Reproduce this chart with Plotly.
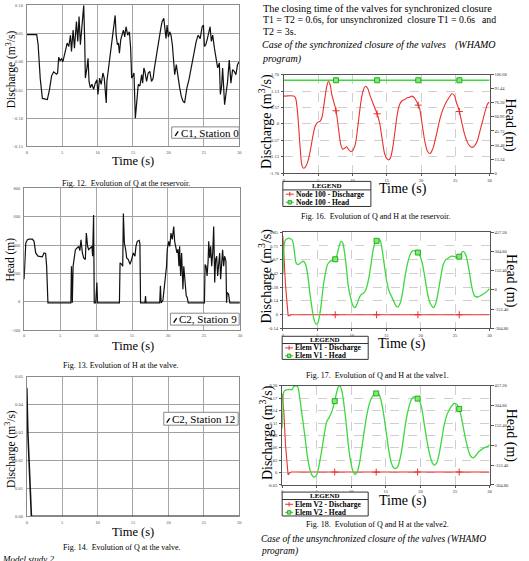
import numpy as np
import plotly.graph_objects as go

W, H = 529, 561
SERIF = "Liberation Serif"

# ---------------- data ----------------
time_ticks = [0, 5, 10, 15, 20, 25, 30]

# Fig. 12 - Q at the reservoir (C1, Station 0)
t_fig12 = [0, 1.40, 1.6, 1.9, 2.2, 2.9, 3.2, 3.5, 3.8, 4.2,
           4.35, 4.5, 4.7, 4.9, 5.1, 5.47, 5.70, 5.93, 6.17, 6.31,
           6.54, 6.73, 7.01, 7.2, 7.38, 7.57, 7.80, 8.04, 8.18, 8.27,
           8.5, 8.65, 8.79, 8.97, 9.2, 9.44, 9.67, 9.9, 10.05, 10.28,
           10.51, 10.75, 10.94, 11.22, 11.31, 11.54, 11.78, 12.01, 12.24, 12.48,
           12.62, 12.8, 12.94, 13.08, 13.27, 13.41, 13.65, 13.83, 14.02, 14.25,
           14.49, 14.67, 14.81, 14.95, 15.14, 15.33, 15.51, 15.75, 15.98, 16.22,
           16.36, 16.54, 16.68, 16.92, 17.15, 17.38, 17.62, 17.85, 17.99, 18.13,
           18.32, 18.5, 18.69, 18.93, 19.11, 19.35, 19.53, 19.67, 19.81, 20.0,
           20.19, 20.37, 20.56, 20.65, 20.89, 21.12, 21.36, 21.59, 21.82, 22.06,
           22.29, 22.43, 22.62, 22.9, 23.18, 23.36, 23.6, 23.93, 24.21, 24.49,
           24.77, 24.95, 25.09, 25.28, 25.51, 25.7, 25.89, 26.07, 26.26, 26.5,
           26.73, 26.96, 27.2, 27.34, 27.52, 27.66, 27.94, 28.13, 28.36, 28.6,
           28.83, 29.07, 29.3, 29.53, 29.77, 30.0]
q_fig12 = [0.048, 0.048, 0.03, -0.03, -0.065, -0.067, -0.05, -0.025, -0.018, -0.022,
           -0.02, 0.008, 0.002, 0.005, 0.0, 0.024, 0.033, 0.027, 0.047, 0.018,
           0.056, 0.024, 0.071, 0.036, 0.080, 0.030, 0.065, 0.10, 0.036, -0.029,
           -0.011, 0.006, -0.035, -0.046, -0.04, -0.049, -0.038, -0.032, -0.058, -0.029,
           -0.04, -0.02, -0.029, -0.073, -0.035, -0.011, 0.012, 0.036, 0.059, 0.082,
           0.047, 0.030, 0.033, 0.015, 0.039, 0.047, 0.056, 0.044, 0.062, 0.047,
           0.053, 0.024, -0.029, -0.026, -0.02, -0.10, -0.07, -0.04, -0.043, -0.023,
           -0.038, -0.011, -0.017, -0.035, -0.02, -0.017, -0.035, -0.029, -0.014, -0.002,
           0.012, 0.024, 0.041, 0.059, 0.071, 0.077, 0.056, 0.041, 0.065, 0.044,
           0.053, 0.047, 0.030, 0.012, -0.023, -0.005, -0.029, -0.046, -0.061, -0.07,
           -0.073, -0.058, -0.046, -0.032, -0.014, -0.002, 0.018, 0.036, 0.047, 0.041,
           0.062, 0.065, 0.027, 0.030, 0.041, 0.053, 0.062, 0.036, 0.047, 0.024,
           0.003, -0.011, -0.002, -0.058, -0.043, -0.011, -0.076, -0.058, -0.035, 0.003,
           -0.038, -0.014, -0.017, -0.023, -0.005, 0.0]
fig12_yticks = [-0.15, -0.10, -0.05, 0.00, 0.05, 0.10]

# Fig. 13 - H at the valve (C2, Station 9)
t_fig13 = [0, 0.23, 0.46, 0.69, 1.15, 1.38, 1.61, 1.93, 2.53, 2.76,
           2.99, 3.13, 3.31, 6.5, 6.58, 6.62, 6.7, 6.81, 7.0, 7.13,
           7.36, 7.59, 7.75, 7.91, 8.1, 8.28, 8.51, 8.65, 8.83, 8.97,
           9.2, 9.43, 9.52, 9.66, 9.75, 9.95, 10.12, 10.21, 13.25, 13.34,
           13.57, 13.71, 13.8, 13.94, 14.12, 14.26, 14.49, 14.72, 14.95, 15.18,
           15.41, 15.55, 15.73, 16.0, 16.1, 16.19, 16.8, 16.88, 16.95, 18.85,
           18.95, 19.05, 19.3, 19.55, 19.7, 19.8, 19.9, 20.1, 20.25, 20.42,
           20.6, 20.8, 20.93, 21.1, 21.25, 21.4, 21.53, 21.62, 21.76, 21.9,
           22.08, 22.2, 22.36, 22.54, 22.68, 22.82, 25.07, 25.16, 25.3, 25.44,
           25.58, 25.67, 25.8, 25.94, 26.08, 26.22, 26.36, 26.5, 26.63, 26.77,
           26.91, 27.05, 27.19, 27.32, 27.46, 27.6, 27.74, 27.88, 28.06, 28.15,
           28.24, 28.43, 28.6, 30]
h_fig13 = [158, 414, 437, 442, 442, 426, 344, 321, 316, 344,
           340, 251, -8, -8, 250, -8, -8, 251, 321, 367,
           379, 391, 360, 437, 344, 309, 298, 484, 391, 367,
           379, 391, 321, 612, -8, -8, 135, -8, -8, 274,
           263, 251, 623, 414, 367, 309, 298, 263, 298, 344,
           321, 390, 426, 433, 410, -8, -8, 40, -8, -8,
           112, -8, 10, 112, 181, 250, 367, 426, 390, 484,
           440, 530, 426, 390, 344, 370, 251, 391, 181, 344,
           88, 250, 135, 42, 30, -8, -8, 263, 251, 181,
           286, 426, 309, 391, 251, 344, 530, 135, 298, 321,
           181, 298, 344, 158, 309, 367, 251, 321, 286, -8,
           65, 53, -8, -8]
fig13_yticks = [-200, 0, 200, 400, 600, 800]

# Fig. 14 - Q at the valve (C2, Station 12)
t_fig14 = [0, 0.05, 0.15, 0.65, 30]
q_fig14 = [0.046, 0.040, 0.030, 0.0, 0.0]
fig14_yticks = [0.00, 0.01, 0.02, 0.03, 0.04, 0.05]

# Fig. 16 - Q and H at the reservoir (Node 100)
t_fig16 = [0, 1.45, 1.69, 1.93, 2.17, 2.41, 2.65, 2.89, 3.13, 3.47,
           3.86, 4.24, 4.58, 4.92, 5.3, 5.55, 5.79, 6.03, 6.32, 6.51,
           6.75, 6.99, 7.23, 7.57, 7.86, 8.1, 8.34, 8.59, 8.92, 9.16,
           9.4, 9.74, 10.03, 10.37, 10.71, 11.0, 11.33, 11.62, 11.91, 12.2,
           12.54, 12.88, 13.26, 13.6, 13.99, 14.37, 14.71, 15.05, 15.34, 15.58,
           15.92, 16.25, 16.54, 16.88, 17.22, 17.6, 17.99, 18.33, 18.66, 19.05,
           19.44, 19.77, 20.02, 20.31, 20.64, 20.98, 21.32, 21.7, 22.04, 22.43,
           22.81, 23.2, 23.63, 24.12, 24.5, 24.84, 25.18, 25.56, 25.9, 26.29,
           26.67, 27.06, 27.49, 27.83, 28.22, 28.6, 28.99, 29.37, 29.76, 30]
q_fig16 = [0.96, 0.96, 0.90, 0.56, -0.13, -0.92, -1.44, -1.53, -1.49, -1.32,
           -0.92, -0.41, -0.07, 0.05, 0.10, 0.22, 0.56, 0.96, 1.36, 1.47,
           1.36, 1.02, 0.80, 0.50, 0.05, -0.41, -0.75, -0.87, -0.83, -0.79,
           -0.87, -0.95, -0.92, -0.75, -0.24, 0.33, 0.90, 1.19, 1.30, 1.24,
           1.00, 0.78, 0.55, 0.35, 0.00, -0.58, -1.04, -1.21, -1.24, -1.15,
           -0.75, -0.18, 0.33, 0.67, 0.79, 0.84, 0.90, 0.92, 0.96, 0.90,
           0.73, 0.56, 0.22, -0.24, -0.70, -0.96, -1.02, -0.87, -0.58, -0.18,
           0.22, 0.50, 0.73, 0.92, 1.04, 0.99, 0.73, 0.47, 0.10, -0.30,
           -0.58, -0.75, -0.81, -0.75, -0.58, -0.24, 0.10, 0.45, 0.71, 0.75]
t_fig16_head = [0, 30]
h_fig16 = [100.6, 100.6]
fig16_q_ticktext = ["-1.70", "-1.13", "-0.57", "0", "0.57", "1.13", "1.70"]
fig16_h_ticktext = ["0", "15.24", "30.48", "45.72", "60.96", "76.20", "91.44", "106.68"]

# Fig. 17 - Q and H at valve 1 (Elem V1)
t_fig17_q = [0, 0.14, 0.38, 0.62, 0.77, 0.96, 1.15, 30]
q_fig17 = [0.81, 0.58, 0.31, 0.11, -0.01, -0.01, 0.0, 0.0]
t_fig17_h = [0, 0.1, 0.19, 0.38, 0.62, 0.86, 1.1, 1.34, 1.54, 1.73,
             1.92, 2.16, 2.4, 2.69, 3.02, 3.31, 3.6, 3.89, 4.22, 4.51,
             4.8, 5.04, 5.28, 5.57, 5.9, 6.24, 6.48, 6.72, 7.01, 7.3,
             7.58, 7.87, 8.16, 8.45, 8.69, 8.93, 9.22, 9.5, 9.89, 10.18,
             10.46, 10.75, 11.09, 11.42, 11.81, 12.14, 12.48, 12.86, 13.15, 13.44,
             13.73, 13.97, 14.21, 14.45, 14.78, 15.12, 15.41, 15.74, 16.08, 16.42,
             16.7, 16.99, 17.33, 17.66, 18.0, 18.38, 18.72, 19.1, 19.49, 19.82,
             20.16, 20.54, 20.93, 21.26, 21.6, 21.89, 22.22, 22.56, 22.94, 23.28,
             23.66, 24.05, 24.38, 24.77, 25.15, 25.49, 25.82, 26.16, 26.5, 26.78,
             27.12, 27.5, 27.84, 28.22, 28.61, 28.99, 29.38, 29.76, 30]
h_fig17 = [122, 253, 358, 397, 405, 410, 405, 397, 358, 279,
           214, 201, 206, 219, 227, 201, 122, -9, -140, -231,
           -271, -265, -218, -114, 43, 148, 201, 219, 232, 240,
           240, 279, 345, 384, 371, 305, 174, 30, -74, -127,
           -140, -114, -61, -35, -22, 17, 96, 227, 332, 379,
           397, 405, 379, 305, 174, 56, -9, -48, -88, -127,
           -135, -109, -35, 83, 187, 266, 305, 311, 305, 279,
           227, 122, -9, -88, -127, -140, -101, -9, 109, 201,
           240, 253, 266, 266, 261, 253, 284, 305, 284, 227,
           122, 4, -48, -56, -48, -35, -22, -4, 12]
fig17_q_ticktext = ["-0.14", "0", "0.14", "0.28", "0.42", "0.57", "0.71", "0.85"]
head_ticktext = ["-304.80", "-152.40", "0", "152.40", "304.80", "457.20"]

# Fig. 18 - Q and H at valve 2 (Elem V2)
t_fig18_q = [0, 0.24, 0.48, 0.72, 0.86, 1.05, 1.3, 30]
q_fig18 = [0.182, 0.14, 0.064, 0.01, -0.007, -0.002, 0.0, 0.0]
t_fig18_h = [0, 0.1, 0.24, 0.48, 0.96, 1.44, 1.67, 2.01, 2.25, 2.49,
             2.78, 3.01, 3.35, 3.68, 4.07, 4.4, 4.69, 5.02, 5.36, 5.74,
             6.12, 6.46, 6.79, 7.18, 7.56, 7.85, 8.13, 8.37, 8.61, 8.95,
             9.28, 9.57, 9.9, 10.24, 10.53, 10.81, 11.15, 11.48, 11.87, 12.25,
             12.63, 13.02, 13.4, 13.73, 14.02, 14.35, 14.69, 15.07, 15.45, 15.79,
             16.12, 16.46, 16.75, 17.13, 17.51, 17.89, 18.28, 18.66, 19.04, 19.43,
             19.81, 20.19, 20.57, 20.96, 21.34, 21.72, 22.01, 22.34, 22.73, 23.11,
             23.44, 23.83, 24.16, 24.55, 24.88, 25.22, 25.55, 25.89, 26.22, 26.56,
             26.89, 27.27, 27.66, 28.04, 28.42, 28.8, 29.19, 29.67, 30]
h_fig18 = [132, 259, 412, 424, 429, 429, 450, 457, 450, 386,
           272, 183, 43, -96, -198, -236, -244, -223, -147, -33,
           94, 183, 213, 259, 330, 399, 450, 457, 424, 310,
           157, 5, -122, -198, -223, -211, -147, -33, 107, 234,
           322, 373, 391, 404, 391, 335, 234, 94, -46, -135,
           -173, -178, -160, -84, 43, 183, 284, 348, 373, 368,
           348, 284, 157, 30, -71, -135, -152, -135, -58, 56,
           157, 234, 272, 305, 323, 315, 290, 221, 132, 43,
           -33, -84, -96, -76, -50, -35, -20, -10, 5]
fig18_q_ticktext = ["-0.03", "0", "0.03", "0.06", "0.08", "0.11", "0.14", "0.17", "0.20"]

marker_times = [7.6, 13.6, 19.6, 25.6]

RED = "#e8302e"
GREEN = "#3cd83c"

# ---------------- helpers ----------------
def fx(p):
    return p / W


def fy(p):
    return 1 - p / H


fig = go.Figure()


def line(x, y, xa, ya, color, width, shape="linear"):
    fig.add_trace(go.Scatter(x=x, y=y, xaxis=xa, yaxis=ya, mode="lines",
                             line=dict(color=color, width=width, shape=shape),
                             showlegend=False, hoverinfo="skip"))


def markers(tx, ty, xa, ya, symbol, color, size, lc):
    mt = np.array(marker_times)
    my = np.interp(mt, tx, ty)
    fig.add_trace(go.Scatter(x=mt, y=my, xaxis=xa, yaxis=ya, mode="markers",
                             marker=dict(symbol=symbol, color=color, size=size,
                                         line=dict(color=lc, width=1)),
                             showlegend=False, hoverinfo="skip"))


# left column
line(t_fig12, q_fig12, "x", "y", "#111111", 1.2)
line(t_fig13, h_fig13, "x2", "y2", "#111111", 1.2)
line(t_fig14, q_fig14, "x3", "y3", "#111111", 1.6)

# right column
line(t_fig16_head, h_fig16, "x4", "y5", GREEN, 1.5)
markers(t_fig16_head, h_fig16, "x4", "y5", "square", "#7cf06a", 5, "#2aa82a")
line(t_fig16, q_fig16, "x4", "y4", RED, 1.1, "spline")
markers(t_fig16, q_fig16, "x4", "y4", "cross-thin", RED, 5, RED)

line(t_fig17_h, h_fig17, "x5", "y7", GREEN, 1.3, "spline")
markers(t_fig17_h, h_fig17, "x5", "y7", "square", "#7cf06a", 5, "#2aa82a")
line(t_fig17_q, q_fig17, "x5", "y6", RED, 1.1)
markers(t_fig17_q, q_fig17, "x5", "y6", "cross-thin", RED, 5, RED)

line(t_fig18_h, h_fig18, "x6", "y9", GREEN, 1.3, "spline")
markers(t_fig18_h, h_fig18, "x6", "y9", "square", "#7cf06a", 5, "#2aa82a")
line(t_fig18_q, q_fig18, "x6", "y8", RED, 1.1)
markers(t_fig18_q, q_fig18, "x6", "y8", "cross-thin", RED, 5, RED)

# ---------------- axes ----------------
def left_x(x0, x1, anchor):
    return dict(domain=[fx(x0), fx(x1)], anchor=anchor, range=[0, 30],
                tickvals=time_ticks, showgrid=True, gridcolor="#a8a8a8",
                gridwidth=1, showline=True, linecolor="#8a8a8a", mirror=True,
                zeroline=False, ticks="", ticklabelstandoff=1,
                tickfont=dict(size=4.5, color="#555", family=SERIF))


def left_y(y0, y1, anchor, vals, fmt):
    return dict(domain=[fy(y1), fy(y0)], anchor=anchor,
                range=[vals[0], vals[-1]], tickvals=vals, tickformat=fmt,
                showgrid=True, gridcolor="#a0a0a0", gridwidth=1,
                showline=True, linecolor="#8a8a8a", mirror=True,
                zeroline=False, ticks="", ticklabelstandoff=2,
                tickfont=dict(size=4.5, color="#555", family=SERIF))


def right_x(x0, x1, anchor):
    return dict(domain=[fx(x0), fx(x1)], anchor=anchor, range=[0, 30],
                tickvals=time_ticks, showgrid=True, gridcolor="#cfcfcf",
                griddash="dash", gridwidth=1, showline=True,
                linecolor="#555", mirror=True, zeroline=False,
                ticks="outside", ticklen=2, tickcolor="#555",
                ticklabelstandoff=0,
                tickfont=dict(size=4.5, color="#333", family=SERIF))


def right_qy(y0, y1, anchor, lo, hi, texts):
    vals = list(np.linspace(lo, hi, len(texts)))
    return dict(domain=[fy(y1), fy(y0)], anchor=anchor, range=[lo, hi],
                tickvals=vals, ticktext=texts, showgrid=True,
                gridcolor="#cfcfcf", griddash="dash", gridwidth=1,
                showline=True, linecolor="#555", mirror=True, zeroline=False,
                ticks="outside", ticklen=2, tickcolor="#555",
                ticklabelstandoff=1,
                tickfont=dict(size=4.5, color="#333", family=SERIF))


def right_hy(overlay, anchor, lo, hi, texts):
    vals = list(np.linspace(lo, hi, len(texts)))
    return dict(overlaying=overlay, side="right", anchor=anchor,
                range=[lo, hi], tickvals=vals, ticktext=texts,
                showgrid=False, showline=True, linecolor="#555",
                zeroline=False, ticks="outside", ticklen=3, tickcolor="#555",
                ticklabelstandoff=0,
                tickfont=dict(size=4.5, color="#333", family=SERIF))


layout = dict(
    width=W, height=H, autosize=False,
    margin=dict(l=0, r=0, t=0, b=0),
    paper_bgcolor="white", plot_bgcolor="white",
    showlegend=False,
    xaxis=left_x(26, 240, "y"),
    yaxis=left_y(3.3, 145.7, "x", fig12_yticks, ".2f"),
    xaxis2=left_x(23.3, 240.7, "y2"),
    yaxis2=left_y(188, 331, "x2", fig13_yticks, "d"),
    xaxis3=left_x(26, 240, "y3"),
    yaxis3=left_y(378, 519, "x3", fig14_yticks, ".2f"),
    xaxis4=right_x(285, 492.3, "y4"),
    yaxis4=right_qy(73.3, 172.7, "x4", -1.70, 1.70, fig16_q_ticktext),
    yaxis5=right_hy("y4", "x4", 0, 106.68, fig16_h_ticktext),
    xaxis5=right_x(284, 492.3, "y6"),
    yaxis6=right_qy(232.3, 329.3, "x5", -0.14, 0.85, fig17_q_ticktext),
    yaxis7=right_hy("y6", "x5", -304.8, 457.2, head_ticktext),
    xaxis6=right_x(283.3, 492.3, "y8"),
    yaxis8=right_qy(387.3, 487.3, "x6", -0.03, 0.20, fig18_q_ticktext),
    yaxis9=right_hy("y8", "x6", -304.8, 457.2, head_ticktext),
)

# ---------------- texts & shapes ----------------
annotations = []
shapes = []


def ann(text, x, y, size, xanchor="center", yanchor="middle", angle=0,
        color="black"):
    annotations.append(dict(text=text, x=fx(x), y=fy(y), xref="paper",
                            yref="paper", showarrow=False, xanchor=xanchor,
                            yanchor=yanchor, textangle=angle, borderpad=0,
                            font=dict(size=size, color=color, family=SERIF)))


def rect(x0, y0, x1, y1, lc="black", fill="white", w=1):
    shapes.append(dict(type="rect", xref="paper", yref="paper",
                       x0=fx(x0), x1=fx(x1), y0=fy(y1), y1=fy(y0),
                       line=dict(color=lc, width=w), fillcolor=fill))


def seg(x0, y0, x1, y1, color="black", w=1):
    shapes.append(dict(type="line", xref="paper", yref="paper",
                       x0=fx(x0), x1=fx(x1), y0=fy(y0), y1=fy(y1),
                       line=dict(color=color, width=w)))


DIS = "Discharge (m<sup>3</sup>/s)"

# left column titles
ann(DIS, 10, 68, 11.5, angle=-90)
ann("Time (s)", 133, 160, 12.5)
ann("Fig. 12.  Evolution of Q at the reservoir.", 126, 183, 8)
rect(172, 126, 240, 137.5, lc="#888")
seg(175.5, 135, 178.5, 130.5, "black", 1.3)
ann("C1, Station 0", 180, 132, 11, xanchor="left")

ann("Head (m)", 9.5, 259.5, 11.5, angle=-90)
ann("Time (s)", 133, 347, 12.5)
ann("Fig. 13. Evolution of H at the valve.", 121, 366.7, 8)
rect(170.7, 314, 240, 326, lc="#888")
seg(174, 323.5, 177, 319, "black", 1.3)
ann("C2, Station 9", 178.5, 320, 11, xanchor="left")

ann(DIS, 10, 451, 11.5, angle=-90)
ann("Time (s)", 133, 534.5, 12.5)
ann("Fig. 14.  Evolution of Q at the valve.", 122, 550, 8)
rect(164, 414, 239, 427, lc="#888")
seg(167, 424.5, 170, 420, "black", 1.3)
ann("C2, Station 12", 171.5, 420.5, 11, xanchor="left")
ann("<i>Model study 2</i>", 0, 555.5, 9, xanchor="left", yanchor="top")

# right column paragraph
ann("The closing time of the valves for synchronized closure", 263, 6.5, 10.3,
    xanchor="left")
ann("T1 = T2 = 0.6s, for unsynchronized  closure T1 = 0.6s", 263, 18, 9.8,
    xanchor="left")
ann("and", 500, 18, 9.8, xanchor="right")
ann("T2 = 3s.", 263, 30, 10, xanchor="left")
ann("<i>Case of the synchronized closure of the valves</i>", 262, 43, 10,
    xanchor="left")
ann("<i>(WHAMO</i>", 500, 43, 10, xanchor="right")
ann("<i>program)</i>", 262, 58, 10, xanchor="left")


def legend_box(x0, y0, x1, y1, ysep, yhead, yr1, yr2, name):
    rect(x0, y0, x1, y1, lc="#333", w=1)
    seg(x0, ysep, x1, ysep, "#333", 1)
    ann("<b>LEGEND</b>", (x0 + x1) / 2, yhead, 7)
    seg(x0 + 3, yr1, x0 + 11, yr1, RED, 1)
    seg(x0 + 7, yr1 - 2.2, x0 + 7, yr1 + 2.2, RED, 1)
    seg(x0 + 3, yr2, x0 + 11, yr2, GREEN, 1.2)
    rect(x0 + 5.3, yr2 - 1.7, x0 + 8.7, yr2 + 1.7, lc="#2aa82a", fill="#7cf06a")
    ann("<b>%s - Discharge</b>" % name, x0 + 12, yr1, 7.5, xanchor="left")
    ann("<b>%s - Head</b>" % name, x0 + 12, yr2, 7.5, xanchor="left")


# Fig 16
ann(DIS, 267, 120, 14, angle=-90)
ann("Head (m)", 513.3, 125, 14, angle=90)
ann("Time (s)", 405.5, 189, 14)
legend_box(284, 181, 372.7, 206.3, 189.6, 185.3, 193.9, 202.1, "Node 100")
ann("Fig. 16.  Evolution of Q and H at the reservoir.", 378, 216.7, 8)

# Fig 17
ann(DIS, 267, 276, 14, angle=-90)
ann("Head (m)", 513.3, 282, 14, angle=90)
ann("Time (s)", 404, 345.5, 14)
legend_box(283.3, 337.3, 370, 360.6, 344.6, 341, 349, 357, "Elem V1")
ann("Fig. 17.  Evolution of Q and H at the valve1.", 379, 376.7, 8)

# Fig 18
ann(DIS, 267, 434, 14, angle=-90)
ann("Head (m)", 513.3, 438, 14, angle=90)
ann("Time (s)", 405, 503.5, 14)
legend_box(283.3, 494.5, 370, 518.6, 502, 498.3, 506.8, 515, "Elem V2")
ann("Fig. 18.  Evolution of Q and H at the valve2.", 379, 526.7, 8)
ann("<i>Case of the unsynchronized closure of the valves (WHAMO</i>", 261,
    542.7, 9.5, xanchor="left")
ann("<i>program)</i>", 261, 554, 9.5, xanchor="left")

layout["annotations"] = annotations
layout["shapes"] = shapes
fig.update_layout(**layout)

fig.write_html("out.html")
